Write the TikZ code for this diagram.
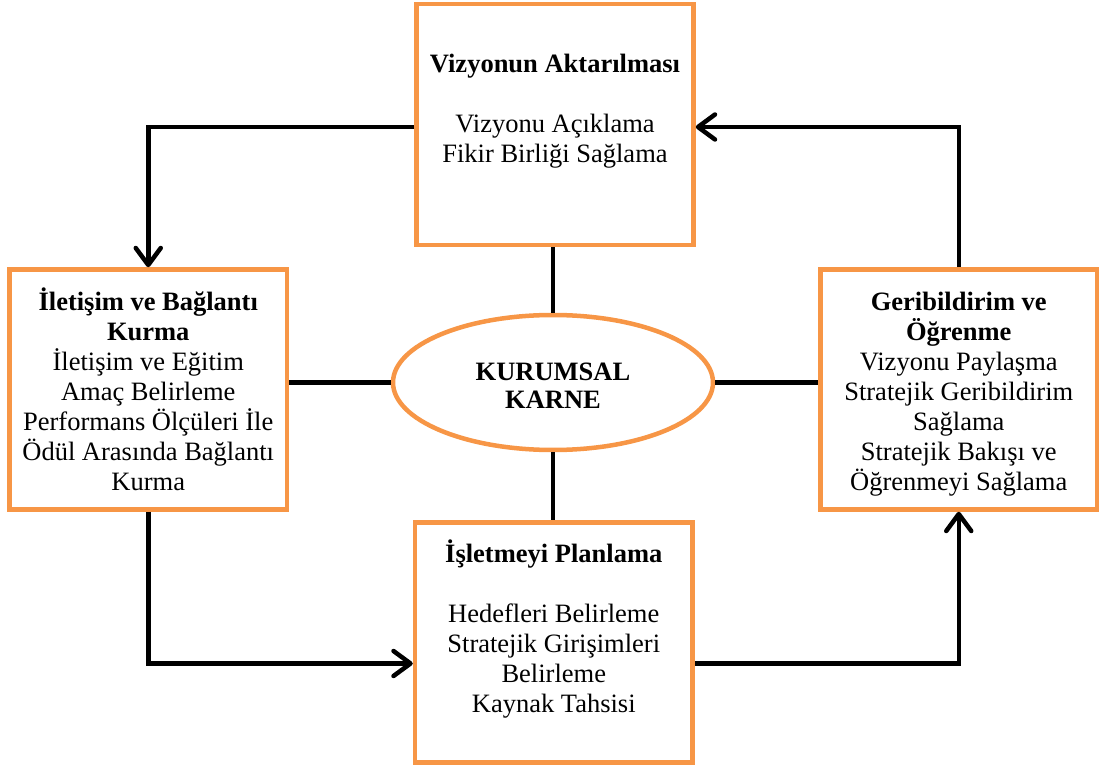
\documentclass[tikz,border=0pt]{standalone}
\usepackage{fontspec}
\setmainfont{Liberation Serif}
\usetikzlibrary{arrows.meta,shapes.geometric}
\definecolor{boxorange}{HTML}{F79646}
\begin{document}
\begin{tikzpicture}[x=1pt,y=-1pt,
  panel/.style={draw=boxorange,line width=4.5pt,fill=white,inner sep=0pt,rectangle},
  label/.style={align=center,anchor=base,inner sep=0pt,font=\fontsize{26.5}{30}\selectfont},
  link/.style={draw=black,line width=4.5pt},
  flow/.style={link,-{Straight Barb[length=17pt,width=25pt,round]}}]
\useasboundingbox (0,0) rectangle (1101,767);

% four panels
\node[panel,minimum width=277pt,minimum height=241pt] (top) at (555,124.5) {};
\node[panel,minimum width=277.5pt,minimum height=240pt] (left) at (148.25,389.5) {};
\node[panel,minimum width=276.5pt,minimum height=240pt] (right) at (958.75,389.5) {};
\node[panel,minimum width=277.5pt,minimum height=240pt] (bottom) at (553.75,642.5) {};

% central ellipse
\node[ellipse,draw=boxorange,line width=4.5pt,fill=white,inner sep=0pt,
      minimum width=320pt,minimum height=135pt] (ell) at (553,382.5) {};

% texts (each placed by the baseline of its last line)
\node[label,font=\bfseries\fontsize{26.5}{28}\selectfont] (tell) at (553,408)
  {KURUMSAL\\KARNE};
\node[label] (ttop) at (555,163)
  {\textbf{Vizyonun Aktarılması}\\[30pt]Vizyonu Açıklama\\Fikir Birliği Sağlama};
\node[label] (tleft) at (148.25,490)
  {\textbf{İletişim ve Bağlantı}\\\textbf{Kurma}\\İletişim ve Eğitim\\Amaç Belirleme\\Performans Ölçüleri İle\\Ödül Arasında Bağlantı\\Kurma};
\node[label] (tright) at (958.75,490)
  {\textbf{Geribildirim ve}\\\textbf{Öğrenme}\\Vizyonu Paylaşma\\Stratejik Geribildirim\\Sağlama\\Stratejik Bakışı ve\\Öğrenmeyi Sağlama};
\node[label] (tbottom) at (553.75,712)
  {\textbf{İşletmeyi Planlama}\\[30pt]Hedefleri Belirleme\\Stratejik Girişimleri\\Belirleme\\Kaynak Tahsisi};

% spokes from the ellipse
\draw[link] (ell.north) -- (ell.north |- top.south);
\draw[link] (ell.south) -- (ell.south |- bottom.north);
\draw[link] (ell.west) -- (ell.west -| left.east);
\draw[link] (ell.east) -- (ell.east -| right.west);

% outer cycle
\draw[flow] ([yshift=-2.5pt]top.west) -| (left.north);
\draw[flow] (left.south) |- ([yshift=-21pt]bottom.west);
\draw[flow] ([yshift=-21pt]bottom.east) -| (right.south);
\draw[flow] (right.north) |- ([yshift=-2.5pt]top.east);
\end{tikzpicture}
\end{document}
